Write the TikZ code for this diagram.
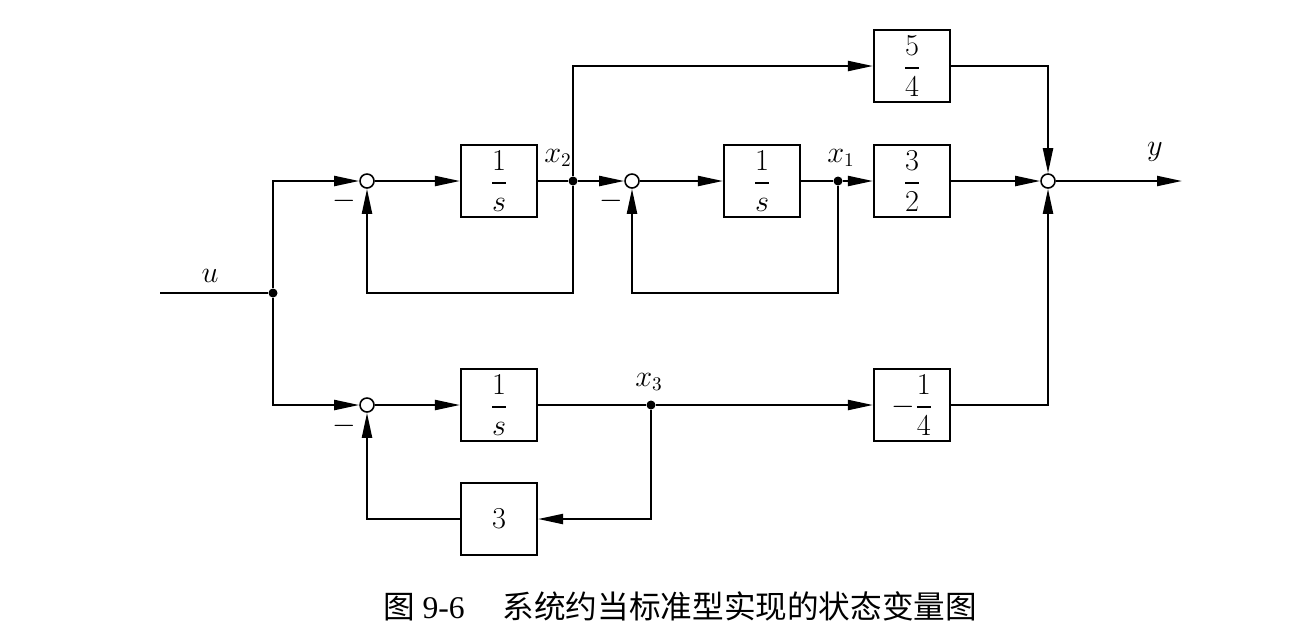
\documentclass[tikz,border=0pt]{standalone}
\usepackage{amsmath}
\usepackage{fontspec}
\setmainfont{Liberation Serif}
\newfontfamily\cjk{Noto Sans CJK SC}
\usetikzlibrary{arrows.meta,positioning}

\tikzset{
  blk/.style={draw,line width=1.2pt,minimum width=1.52cm,minimum height=1.44cm,
    inner sep=0pt,font=\fontsize{16}{18}\selectfont},
  sumpt/.style={draw,circle,line width=0.9pt,inner sep=0pt,minimum size=0.28cm},
  dotpt/.style={circle,fill,inner sep=0pt,minimum size=0.18cm},
  wire/.style={line width=1.2pt},
  sig/.style={wire,-{Triangle[length=5mm,width=2mm]}},
  lbl/.style={font=\fontsize{16}{18}\selectfont},
}

\begin{document}
\begin{tikzpicture}[x=0.02cm,y=-0.02cm]
    \useasboundingbox (0,0) rectangle (1300,640);
    % Summing points, blocks and branch points
    \coordinate (uin) at (160,293);
    \node[dotpt] (ju) at (273,293) {};
    \node[sumpt] (s1) at (367,181) {};
    \node[blk] (g1) at (499,181) {$\dfrac{1}{s}$};
    \node[dotpt] (x2) at (573,181) {};
    \node[sumpt] (s2) at (632,181) {};
    \node[blk] (g2) at (762,181) {$\dfrac{1}{s}$};
    \node[dotpt] (x1) at (838,181) {};
    \node[blk] (g32) at (912,181) {$\dfrac{3}{2}$};
    \node[blk] (g54) at (912,66) {$\dfrac{5}{4}$};
    \node[sumpt] (s3) at (1048,181) {};
    \coordinate (yout) at (1182,181);
    \node[sumpt] (s4) at (367,405) {};
    \node[blk] (g3) at (499,405) {$\dfrac{1}{s}$};
    \node[dotpt] (x3) at (651,405) {};
    \node[blk] (g14) at (912,405) {$-\dfrac{1}{4}$};
    \node[blk] (gk) at (499,519) {$3$};
    % Signal lines
    \draw[wire] (uin) -- (ju);
    \draw[sig] (ju) |- (s1);
    \draw[sig] (ju) |- (s4);
    \draw[sig] (s1) -- (g1);
    \draw[wire] (g1) -- (x2);
    \draw[sig] (x2) -- (s2);
    \draw[sig] (x2) |- (g54);
    \draw[sig] (x2) -- ++(0,112) -| (s1);
    \draw[sig] (s2) -- (g2);
    \draw[wire] (g2) -- (x1);
    \draw[sig] (x1) -- (g32);
    \draw[sig] (x1) -- ++(0,112) -| (s2);
    \draw[sig] (g32) -- (s3);
    \draw[sig] (g54) -| (s3);
    \draw[sig] (g14) -| (s3);
    \draw[sig] (s3) -- (yout);
    \draw[sig] (s4) -- (g3);
    \draw[wire] (g3) -- (x3);
    \draw[sig] (x3) -- (g14);
    \draw[sig] (x3) |- (gk);
    \draw[sig] (gk) -| (s4);
    % Labels
    \node[lbl] (lu) at (210,276) {$u$};
    \node[lbl] (lx2) at (558,158) {$x_2$};
    \node[lbl] (lx1) at (841,158) {$x_1$};
    \node[lbl] (lx3) at (649,382) {$x_3$};
    \node[lbl] (ly) at (1155,152) {$y$};
    \node[lbl] (m1) at (344,201) {$-$};
    \node[lbl] (m2) at (611,201) {$-$};
    \node[lbl] (m3) at (344,426) {$-$};
    \node[font=\fontsize{18}{21}\selectfont] (cap) at (680,606)
      {{\cjk 图} 9-6\hspace{1.2em}{\cjk 系统约当标准型实现的状态变量图}};
\end{tikzpicture}
\end{document}
